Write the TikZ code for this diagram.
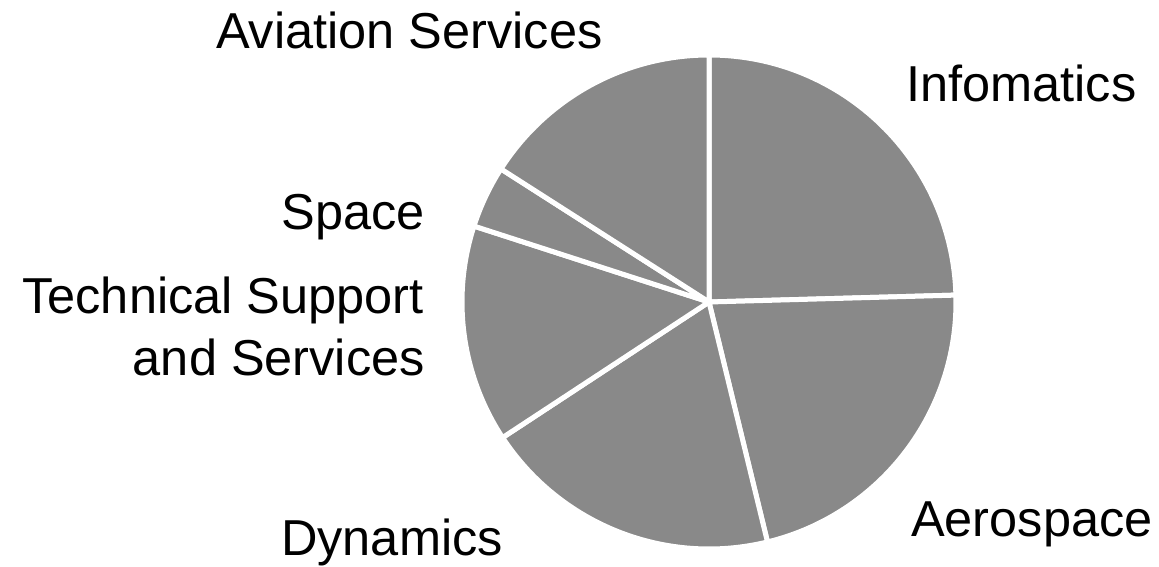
\documentclass[tikz,border=0pt]{standalone}
\usepackage{fontspec}
\setmainfont{Liberation Sans}
\definecolor{piegray}{RGB}{137,137,137}
\begin{document}
\begin{tikzpicture}[x=1pt,y=1pt,
  slice/.style={fill=piegray,draw=white,line width=5pt,line join=round},
  lbl/.style={inner sep=0pt,font=\fontsize{50.5}{62}\selectfont}]
\useasboundingbox (0,0) rectangle (1159,566);
\coordinate (O) at (709,264);
% slices, clockwise from the top
\foreach \a/\b in {90/1.6, 1.6/-76.3, -76.3/-146.7, -146.7/-197.9, -197.9/-212.6, -212.6/-270}
  \filldraw[slice] (O) -- ++(\a:247) arc[start angle=\a, end angle=\b, radius=247] -- cycle;
% labels
\node[lbl,anchor=base west] (aviation) at (216,517) {Aviation Services};
\node[lbl,anchor=base west] (infomatics) at (906,464) {Infomatics};
\node[lbl,anchor=base east] (space) at (425,337) {Space};
\node[lbl,anchor=base east] (technical) at (424,253) {Technical Support};
\node[lbl,anchor=base east] (services) at (425,191) {and Services};
\node[lbl,anchor=base west] (aerospace) at (911,30) {Aerospace};
\node[lbl,anchor=base west] (dynamics) at (281,11) {Dynamics};
\end{tikzpicture}
\end{document}
